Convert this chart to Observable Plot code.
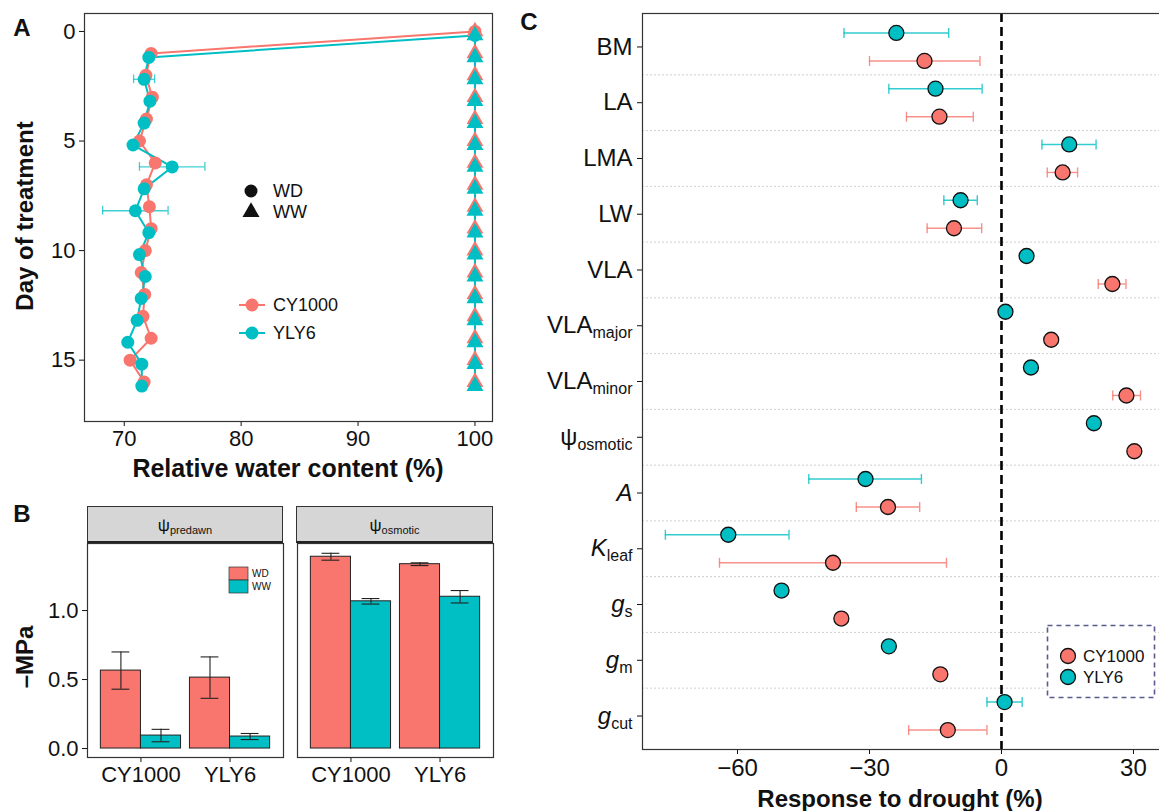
<!DOCTYPE html>
<html>
<head>
<meta charset="utf-8">
<script src="https://cdn.jsdelivr.net/npm/d3@7"></script>
<script src="https://cdn.jsdelivr.net/npm/@observablehq/plot@0.6"></script>
<style>
html,body{margin:0;padding:0;background:#fff;}
#fig{position:relative;width:1159px;height:811px;overflow:hidden;background:#fff;font-family:"Liberation Sans",Arial,Helvetica,sans-serif;color:#111;}
#fig > svg{position:absolute;overflow:visible;}
</style>
</head>
<body>
<div id="fig"></div>
<script>
// ---------------- DATA ----------------
// Panel A: relative water content (%) by day of treatment
const days = [0,1,2,3,4,5,6,7,8,9,10,11,12,13,14,15,16];
const rwcWD_CY1000 = [100,72.3,71.85,72.4,71.9,71.3,72.65,71.9,72.15,72.3,71.8,71.45,71.75,71.6,72.3,70.5,71.7];
const rwcWD_YLY6   = [100,72.1,71.7,72.2,71.7,70.75,74.1,71.7,70.95,72.1,71.3,71.8,71.45,71.1,70.3,71.5,71.5];
const seWD_CY1000  = [0,0,0,0,0,0,0,0,0,0,0,0,0,0,0,0,0];
const seWD_YLY6    = [0,0,0.9,0,0,0,2.8,0,2.8,0,0,0,0,0,0,0,0];
const rwcWW_CY1000 = [100,100,100,100,100,100,100,100,100,100,100,100,100,100,100,100,100];
const rwcWW_YLY6   = [100,100,100,100,100,100,100,100,100,100,100,100,100,100,100,100,100];
const cultivars = ["CY1000","YLY6"];
const cultivarColors = ["#F8766D","#00BFC4"];
const treatments = ["WD","WW"];
const ticksA_x = [70,80,90,100];
const ticksA_y = [0,5,10,15];

// Panel B: water potentials (-MPa)
const psiVars = ["predawn","osmotic"];
const psiWD_CY1000 = [0.565, 1.39];
const psiWW_CY1000 = [0.094, 1.067];
const psiWD_YLY6   = [0.514, 1.336];
const psiWW_YLY6   = [0.087, 1.10];
const seWDpsi_CY1000 = [0.135, 0.025];
const seWWpsi_CY1000 = [0.045, 0.02];
const seWDpsi_YLY6   = [0.15, 0.01];
const seWWpsi_YLY6   = [0.022, 0.045];
const ticksB_y = [0, 0.5, 1.0];

// Panel C: response to drought (%)
const traits = ["BM","LA","LMA","LW","VLA","VLA|major","VLA|minor","ψ|osmotic","A","K|leaf","g|s","g|m","g|cut"];
const respCY1000 = [-17.5,-14.1,13.9,-10.8,25.2,11.3,28.4,30.2,-25.8,-38.3,-36.4,-13.9,-12.2];
const loCY1000   = [-30.0,-21.6,10.4,-16.9,22.0,null,25.3,null,-33.0,-64.1,null,-15.3,-21.1];
const hiCY1000   = [-4.9,-6.4,17.3,-4.5,28.3,null,31.6,null,-18.6,-12.5,null,-12.5,-3.3];
const respYLY6   = [-23.9,-15.0,15.4,-9.3,5.7,0.9,6.7,21.0,-30.9,-62.1,-50.0,-25.6,0.7];
const loYLY6     = [-35.8,-25.6,9.2,-13.1,null,null,null,null,-43.8,-76.4,null,null,-3.3];
const hiYLY6     = [-12.0,-4.4,21.5,-5.5,null,null,null,null,-18.2,-48.3,null,null,4.7];
const ticksC_x = [-60,-30,0,30];

// ---------------- HELPERS ----------------
const FONT = '"Liberation Sans", Arial, Helvetica, sans-serif';
const fig = document.getElementById("fig");
const colorOf = c => cultivarColors[cultivars.indexOf(c)];
function put(svg, left, top) { svg.style.left = left + "px"; svg.style.top = top + "px"; fig.appendChild(svg); }
function label(html, x, y, o = {}) {
  const d = document.createElement("div");
  d.innerHTML = html;
  const tx = o.anchor === "start" ? "0" : o.anchor === "end" ? "-100%" : "-50%";
  d.style.cssText = `position:absolute;left:${x}px;top:${y}px;white-space:nowrap;line-height:1;` +
    `font-size:${o.size || 22}px;font-weight:${o.bold ? 700 : 400};color:#111;` +
    `transform:translate(${tx},-50%)${o.rotate ? ` rotate(${o.rotate}deg)` : ""};`;
  fig.appendChild(d);
  return d;
}

// ---------------- PANEL A ----------------
const rowsA = [];
cultivars.forEach((c, ci) => {
  const wd = ci === 0 ? rwcWD_CY1000 : rwcWD_YLY6;
  const se = ci === 0 ? seWD_CY1000 : seWD_YLY6;
  const ww = ci === 0 ? rwcWW_CY1000 : rwcWW_YLY6;
  days.forEach((d, i) => {
    rowsA.push({cultivar: c, treatment: "WD", day: d, rwc: wd[i], se: se[i]});
    rowsA.push({cultivar: c, treatment: "WW", day: d, rwc: ww[i], se: 0});
  });
});
const selA = (c, t) => rowsA.filter(r => r.cultivar === c && r.treatment === t);
const dyA = {CY1000: 0, YLY6: 4};

const plotA = Plot.plot({
  width: 520, height: 480,
  marginLeft: 84, marginRight: 28, marginTop: 13, marginBottom: 59,
  style: {fontSize: "22px", fontFamily: FONT, color: "#111", background: "transparent"},
  x: {domain: [66.6, 101.5], ticks: ticksA_x, tickSize: 5, tickPadding: 4, label: null},
  y: {domain: [-0.82, 17.8], reverse: true, ticks: ticksA_y, tickSize: 5, tickPadding: 4, label: null},
  marks: [
    Plot.frame({stroke: "#333", strokeWidth: 1.2}),
    ...cultivars.flatMap(c => [
      Plot.line(selA(c, "WD"), {x: "rwc", y: "day", stroke: colorOf(c), strokeWidth: 2, dy: dyA[c]}),
      Plot.line(selA(c, "WW"), {x: "rwc", y: "day", stroke: colorOf(c), strokeWidth: 2, dy: dyA[c]})
    ]),
    ...cultivars.flatMap(c => {
      const e = rowsA.filter(r => r.cultivar === c && r.se > 0);
      return [
        Plot.ruleY(e, {y: "day", x1: r => r.rwc - r.se, x2: r => r.rwc + r.se, stroke: colorOf(c), strokeOpacity: 0.75, strokeWidth: 1.3, dy: dyA[c]}),
        Plot.ruleX(e, {x: r => r.rwc - r.se, y1: r => r.day - 0.2, y2: r => r.day + 0.2, stroke: colorOf(c), strokeOpacity: 0.75, strokeWidth: 1.3, dy: dyA[c]}),
        Plot.ruleX(e, {x: r => r.rwc + r.se, y1: r => r.day - 0.2, y2: r => r.day + 0.2, stroke: colorOf(c), strokeOpacity: 0.75, strokeWidth: 1.3, dy: dyA[c]})
      ];
    }),
    ...cultivars.map(c => Plot.dot(selA(c, "WD"), {x: "rwc", y: "day", r: 6.5, fill: colorOf(c), dy: dyA[c]})),
    ...cultivars.map(c => Plot.dot(selA(c, "WW"), {x: "rwc", y: "day", r: 6.3, symbol: "triangle", fill: colorOf(c), dy: dyA[c]}))
  ]
});
put(plotA, 0, 0);

// ---------------- PANEL B ----------------
const rowsB = [];
psiVars.forEach((v, vi) => {
  cultivars.forEach((c, ci) => {
    treatments.forEach(t => {
      const val = ci === 0 ? (t === "WD" ? psiWD_CY1000 : psiWW_CY1000) : (t === "WD" ? psiWD_YLY6 : psiWW_YLY6);
      const se = ci === 0 ? (t === "WD" ? seWDpsi_CY1000 : seWWpsi_CY1000) : (t === "WD" ? seWDpsi_YLY6 : seWWpsi_YLY6);
      rowsB.push({variable: v, cultivar: c, treatment: t, pos: ci + 1, value: val[vi], se: se[vi]});
    });
  });
});
const x1B = r => r.treatment === "WD" ? r.pos - 0.45 : r.pos;
const x2B = r => r.treatment === "WD" ? r.pos : r.pos + 0.45;
const xcB = r => r.treatment === "WD" ? r.pos - 0.225 : r.pos + 0.225;

const plotB = Plot.plot({
  width: 520, height: 300,
  marginLeft: 87, marginRight: 27, marginTop: 43, marginBottom: 43,
  style: {fontSize: "22px", fontFamily: FONT, color: "#111", background: "transparent"},
  fx: {domain: psiVars, paddingInner: 0.0667, paddingOuter: 0, round: false, axis: null, label: null},
  x: {domain: [0.4, 2.6], ticks: [1, 2], tickFormat: p => cultivars[p - 1], tickSize: 5, tickPadding: 4, label: null},
  y: {domain: [-0.065, 1.486], ticks: ticksB_y, tickFormat: d3.format(".1f"), tickSize: 5, tickPadding: 4, label: null},
  color: {domain: treatments, range: cultivarColors},
  marks: [
    Plot.frame({stroke: "#333", strokeWidth: 1.2}),
    Plot.rect(rowsB, {fx: "variable", x1: x1B, x2: x2B, y1: 0, y2: "value", fill: "treatment", stroke: "#222", strokeWidth: 1}),
    Plot.ruleX(rowsB, {fx: "variable", x: xcB, y1: r => r.value - r.se, y2: r => r.value + r.se, stroke: "#222", strokeWidth: 1.1}),
    Plot.ruleY(rowsB, {fx: "variable", y: r => r.value + r.se, x1: r => xcB(r) - 0.1, x2: r => xcB(r) + 0.1, stroke: "#222", strokeWidth: 1.1}),
    Plot.ruleY(rowsB, {fx: "variable", y: r => r.value - r.se, x1: r => xcB(r) - 0.1, x2: r => xcB(r) + 0.1, stroke: "#222", strokeWidth: 1.1})
  ]
});
put(plotB, 0, 500);

// strips for panel B
[[87, 196, "predawn"], [296, 197, "osmotic"]].forEach(([x, w, sub]) => {
  const s = document.createElement("div");
  s.style.cssText = `position:absolute;left:${x}px;top:506px;width:${w}px;height:37px;box-sizing:border-box;background:#d6d6d6;border:1.2px solid #333;border-bottom:2px solid #222;`;
  fig.appendChild(s);
  label(`ψ<span style="font-size:11px;position:relative;top:3px;">${sub}</span>`, x + w / 2, 525, {size: 17});
});

// ---------------- PANEL C ----------------
const rowsC = [];
cultivars.forEach((c, ci) => {
  const v = ci === 0 ? respCY1000 : respYLY6;
  const lo = ci === 0 ? loCY1000 : loYLY6;
  const hi = ci === 0 ? hiCY1000 : hiYLY6;
  traits.forEach((t, i) => rowsC.push({cultivar: c, trait: t, value: v[i], lo: lo[i], hi: hi[i]}));
});
const dyC = {CY1000: 14, YLY6: -14};
const topC = 13, bottomC = 62, heightC = 811;
const halfStepC = (heightC - topC - bottomC) / (traits.length - 1 + 1.2) / 2;
const vbar = {draw(ctx, size) { const h = Math.sqrt(size / Math.PI); ctx.moveTo(0, -h); ctx.lineTo(0, h); }};

const plotC = Plot.plot({
  width: 622, height: heightC,
  marginLeft: 102, marginRight: 0, marginTop: topC, marginBottom: bottomC,
  style: {fontSize: "24px", fontFamily: FONT, color: "#111", background: "transparent"},
  x: {domain: [-81.6, 36.6], ticks: ticksC_x, tickFormat: d => d < 0 ? "\u2212" + (-d) : String(d), tickSize: 5, tickPadding: 4, label: null},
  y: {type: "point", domain: traits, padding: 0.6, round: false, tickSize: 5, tickPadding: 5, label: null},
  marks: [
    Plot.ruleY(traits.slice(0, -1), {y: d => d, dy: halfStepC, stroke: "#cfcfcf", strokeWidth: 1, strokeDasharray: "2,2"}),
    Plot.ruleX([0], {x: d => d, stroke: "#000", strokeWidth: 2.6, strokeDasharray: "9,5"}),
    ...cultivars.flatMap(c => {
      const e = rowsC.filter(r => r.cultivar === c && r.lo != null);
      const o = {y: "trait", dy: dyC[c], stroke: colorOf(c), strokeOpacity: 0.8, strokeWidth: 1.4};
      return [
        Plot.ruleY(e, {...o, x1: "lo", x2: "hi"}),
        Plot.dot(e, {...o, x: "lo", symbol: vbar, r: 5, fill: "none"}),
        Plot.dot(e, {...o, x: "hi", symbol: vbar, r: 5, fill: "none"})
      ];
    }),
    ...cultivars.map(c => Plot.dot(rowsC.filter(r => r.cultivar === c), {x: "value", y: "trait", dy: dyC[c], r: 7.5, fill: colorOf(c), stroke: "#111", strokeWidth: 1.3})),
    Plot.frame({stroke: "#333", strokeWidth: 1.2})
  ]
});
put(plotC, 540, 0);

// subscripts / italics on panel C trait labels
const italicMain = ["A", "K", "g"];
d3.select(plotC).selectAll('g[aria-label="y-axis tick label"] text').each(function () {
  const el = d3.select(this);
  const raw = el.text();
  const [main, sub] = raw.split("|");
  el.text(null);
  el.append("tspan").attr("font-style", italicMain.includes(main) ? "italic" : null).text(main);
  if (sub) el.append("tspan").attr("font-size", "16px").attr("dy", "0.3em").text(sub);
});

// ---------------- LEGENDS (overlay) ----------------
const ov = d3.create("svg").attr("width", 1159).attr("height", 811).style("pointer-events", "none").node();
put(ov, 0, 0);
const o = d3.select(ov);
// Panel A shape legend
o.append("circle").attr("cx", 251).attr("cy", 191).attr("r", 6.5).attr("fill", "#111");
o.append("path").attr("d", d3.symbol(d3.symbolTriangle, 125)()).attr("transform", "translate(251,212)").attr("fill", "#111");
// Panel A colour legend
[[305, 0], [333, 1]].forEach(([y, i]) => {
  o.append("line").attr("x1", 239).attr("x2", 265).attr("y1", y).attr("y2", y).attr("stroke", cultivarColors[i]).attr("stroke-width", 2);
  o.append("circle").attr("cx", 252).attr("cy", y).attr("r", 6.5).attr("fill", cultivarColors[i]);
});
// Panel B legend
o.append("rect").attr("x", 229).attr("y", 567).attr("width", 19).attr("height", 13).attr("fill", cultivarColors[0]).attr("stroke", "#333").attr("stroke-width", 0.7);
o.append("rect").attr("x", 229).attr("y", 580).attr("width", 19).attr("height", 13).attr("fill", cultivarColors[1]).attr("stroke", "#333").attr("stroke-width", 0.7);
// Panel C legend
o.append("rect").attr("x", 1047.5).attr("y", 625.5).attr("width", 107).attr("height", 72).attr("fill", "#fff").attr("stroke", "#5a5a8c").attr("stroke-width", 1.6).attr("stroke-dasharray", "5,4");
[[656, 0], [677, 1]].forEach(([y, i]) => {
  o.append("circle").attr("cx", 1068).attr("cy", y).attr("r", 7.5).attr("fill", cultivarColors[i]).attr("stroke", "#111").attr("stroke-width", 1.3);
});

// ---------------- TEXT ----------------
label("A", 22, 28, {size: 24, bold: true});
label("B", 22, 514, {size: 24, bold: true});
label("C", 529, 22, {size: 24, bold: true});
label("Relative water content (%)", 288, 468, {size: 25, bold: true});
label("Day of treatment", 25, 216, {size: 24, bold: true, rotate: -90});
label("\u2013MPa", 25, 657, {size: 24, bold: true, rotate: -90});
label("Response to drought (%)", 900, 799, {size: 24, bold: true});
label("WD", 273, 191, {size: 18, anchor: "start"});
label("WW", 273, 212, {size: 18, anchor: "start"});
label("CY1000", 273, 305, {size: 18, anchor: "start"});
label("YLY6", 273, 333, {size: 18, anchor: "start"});
label("WD", 252, 574, {size: 10, anchor: "start"});
label("WW", 252, 587, {size: 10, anchor: "start"});
label("CY1000", 1083, 656, {size: 17, anchor: "start"});
label("YLY6", 1083, 677, {size: 17, anchor: "start"});
</script>
</body>
</html>
